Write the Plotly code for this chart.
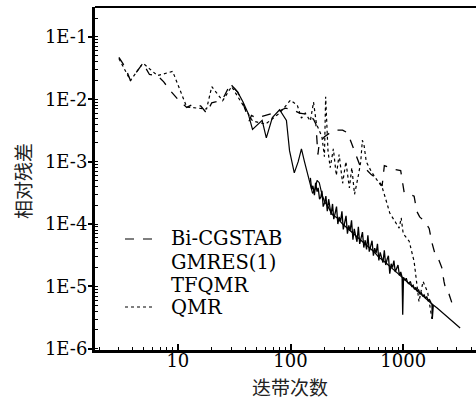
import plotly.graph_objects as go

# ---------------- data ----------------
bicg_x = [3, 3.4, 3.8, 4.3, 4.9, 5.6, 6.6, 7.5, 8.5, 10, 12, 14, 16, 18, 20, 22, 25, 28, 30, 34, 38, 43, 45, 50,
          60, 75, 90, 105, 120, 135, 150, 160, 168, 175, 180, 200, 230, 260, 290, 320, 340, 370, 410, 470, 520,
          575, 650, 680, 750, 850, 950, 990, 1020, 1150, 1250, 1320, 1400, 1550, 1700, 1800, 1900, 2050, 2200,
          2300, 2400, 2550, 2700]
bicg_y = [0.047, 0.033, 0.020, 0.028, 0.038, 0.025, 0.024, 0.019, 0.014, 0.010, 0.0074, 0.0085, 0.0078, 0.0060,
          0.0088, 0.0092, 0.0100, 0.0150, 0.0168, 0.013, 0.0085, 0.0045, 0.0055, 0.0050, 0.0055, 0.0062, 0.0072,
          0.0068, 0.0060, 0.0058, 0.0052, 0.0048, 0.0040, 0.0013, 0.0020, 0.0025, 0.0030, 0.0032, 0.0032, 0.0029,
          0.0022, 0.0015, 0.0009, 0.00075, 0.00062, 0.00055, 0.00041, 0.00086, 0.00080, 0.00075, 0.00072,
          0.00040, 0.00032, 0.00030, 0.00028, 0.00016, 0.00013, 0.00011, 0.000085, 0.00005, 0.000035, 0.000028,
          0.000020, 0.000012, 0.0000085, 0.0000075, 0.0000055]

gmres_x = [30, 34, 38, 42, 46, 56, 61, 69, 80, 92, 98, 108, 117, 125, 133, 142, 150, 157, 165, 172, 180, 190,
           200, 215, 236, 260, 290, 320, 360, 410, 470, 550, 600, 700, 800, 900, 1000, 1100, 1200, 1400, 1600,
           1800, 2000, 2300, 2600, 2900, 3200]
gmres_y = [0.0168, 0.013, 0.009, 0.0060, 0.0033, 0.0046, 0.0024, 0.0051, 0.0068, 0.0046, 0.0015, 0.00066,
           0.0010, 0.0016, 0.0010, 0.00064, 0.00045, 0.00031, 0.00036, 0.00050, 0.00046, 0.00030, 0.00023,
           0.00019, 0.00014, 0.000125, 0.00010, 0.000085, 0.000070, 0.000056, 0.000046, 0.000036, 0.000030,
           0.000024, 0.000019, 0.000016, 0.0000135, 0.0000115, 0.0000100, 0.0000078, 0.0000063, 0.0000052,
           0.0000045, 0.0000036, 0.0000029, 0.0000025, 0.00000215]

tfqmr_x = [150, 154, 158, 163, 167, 172, 176, 181, 186, 190, 195, 201, 206, 212, 218, 223, 229, 236, 242, 249,
           256, 263, 270, 278, 286, 294, 302, 311, 320, 329, 338, 348, 358, 368, 378, 389, 400, 411, 423, 435,
           447, 460, 473, 486, 500, 514, 529, 544, 559, 575, 591, 608, 625, 643, 661, 680, 699, 719, 739, 760,
           782, 804, 827, 850, 874, 899, 925, 951, 978, 990, 1006, 1035, 1064, 1094, 1125, 1157, 1190, 1224,
           1259, 1295, 1332, 1370, 1409, 1449, 1490, 1532, 1576, 1620, 1666, 1713, 1762, 1800, 1812, 1850]
tfqmr_y = [5.5e-4, 3.6e-4, 4.1e-4, 2.9e-4, 4.6e-4, 3.3e-4, 3.8e-4, 2.5e-4, 2.7e-4, 3.4e-4, 1.9e-4, 2.2e-4,
           2.8e-4, 1.6e-4, 2.5e-4, 1.7e-4, 1.4e-4, 2.1e-4, 1.2e-4, 1.5e-4, 1.9e-4, 1.0e-4, 1.3e-4, 1.1e-4,
           1.6e-4, 8.2e-5, 1.05e-4, 1.35e-4, 7.0e-5, 9.5e-5, 7.8e-5, 1.15e-4, 5.6e-5, 8.4e-5, 6.5e-5, 5.2e-5,
           9.0e-5, 4.8e-5, 6.0e-5, 7.4e-5, 4.2e-5, 5.5e-5, 3.9e-5, 6.6e-5, 3.6e-5, 4.5e-5, 5.4e-5, 3.1e-5,
           4.1e-5, 3.4e-5, 4.8e-5, 2.6e-5, 3.5e-5, 2.9e-5, 2.4e-5, 3.8e-5, 2.2e-5, 2.7e-5, 3.1e-5, 1.6e-5,
           2.3e-5, 2.0e-5, 2.6e-5, 1.7e-5, 1.9e-5, 2.2e-5, 1.5e-5, 1.7e-5, 1.4e-5, 3.5e-6, 1.4e-5, 1.25e-5,
           1.35e-5, 1.15e-5, 1.1e-5, 1.2e-5, 1.0e-5, 1.05e-5, 9.0e-6, 9.6e-6, 8.4e-6, 8.8e-6, 7.6e-6, 7.9e-6,
           7.0e-6, 7.3e-6, 6.5e-6, 6.8e-6, 5.9e-6, 6.1e-6, 5.5e-6, 5.2e-6, 3.0e-6, 5.0e-6]

qmr_x = [3, 3.8, 4.9, 6.6, 9, 12, 18, 20, 25, 30, 38, 46, 60, 80, 100, 115, 125, 135, 150, 160, 170, 190,
         200, 205, 215, 225, 240, 255, 270, 290, 310, 333, 350, 370, 400, 420, 434, 450, 470, 520, 580, 650,
         700, 760, 820, 920, 960, 1000, 1130, 1250, 1380, 1500, 1650, 1800]
qmr_y = [0.045, 0.020, 0.038, 0.024, 0.028, 0.0075, 0.0070, 0.016, 0.0095, 0.0160, 0.0080, 0.0045, 0.0040,
         0.0060, 0.0097, 0.0080, 0.0050, 0.0060, 0.0045, 0.0090, 0.0040, 0.0025, 0.0012, 0.011, 0.0015,
         0.0008, 0.0016, 0.0006, 0.0013, 0.00045, 0.0010, 0.00038, 0.0008, 0.00030, 0.0006, 0.0010, 0.0022,
         0.0018, 0.0010, 0.0007, 0.00052, 0.00039, 0.00025, 0.00015, 0.00012, 0.000086, 0.000126, 0.00007,
         0.000053, 0.000025, 0.0000057, 0.000012, 0.000008, 0.000003]

y_tickvals = [1e-6, 1e-5, 1e-4, 1e-3, 1e-2, 1e-1]
y_ticktext = ["1E-6", "1E-5", "1E-4", "1E-3", "1E-2", "1E-1"]
x_tickvals = [10, 100, 1000]
x_ticktext = ["10", "100", "1000"]
legend_names = ["Bi-CGSTAB", "GMRES(1)", "TFQMR", "QMR"]

# ---------------- figure ----------------
SERIF = "DejaVu Serif"
CJK = "Noto Sans CJK SC"

fig = go.Figure()
fig.add_trace(go.Scatter(x=gmres_x, y=gmres_y, mode="lines", name=legend_names[1],
                         line=dict(color="black", width=1.2)))
fig.add_trace(go.Scatter(x=tfqmr_x, y=tfqmr_y, mode="lines", name=legend_names[2],
                         line=dict(color="black", width=1.3)))
fig.add_trace(go.Scatter(x=bicg_x, y=bicg_y, mode="lines", name=legend_names[0],
                         line=dict(color="black", width=1.3, dash="dash")))
fig.add_trace(go.Scatter(x=qmr_x, y=qmr_y, mode="lines", name=legend_names[3],
                         line=dict(color="black", width=1.2, dash="dot")))

L, T, B, R = 95, 7, 54, 0
W, H = 476, 404
pw, ph = W - L - R, H - T - B

def px(xp):
    return (xp - L) / pw

def py(yp):
    return (H - B - yp) / ph

fig.update_layout(
    width=W, height=H,
    margin=dict(l=L, r=R, t=T, b=B, pad=0, autoexpand=False),
    paper_bgcolor="white", plot_bgcolor="white",
    showlegend=False,
    font=dict(family=SERIF, size=18, color="black"),
    xaxis=dict(type="log", range=[0.265, 3.646], tickmode="array", tickvals=x_tickvals,
               ticktext=x_ticktext, ticks="inside", ticklen=6, tickwidth=1.5, tickcolor="black",
               showline=True, linewidth=3, linecolor="black", mirror=False, showgrid=False,
               zeroline=False, automargin=False, ticklabelstandoff=-8,
               tickfont=dict(family=SERIF, size=18, color="black"),
               minor=dict(ticks="inside", ticklen=3, tickwidth=1.2, tickcolor="black",
                          dtick="D1", showgrid=False)),
    yaxis=dict(type="log", range=[-6.02, -0.52], tickmode="array", tickvals=y_tickvals,
               ticktext=y_ticktext, ticks="outside", ticklen=4, tickwidth=1.5, tickcolor="black",
               showline=True, linewidth=3, linecolor="black", mirror=False, showgrid=False,
               zeroline=False, automargin=False, ticklabelstandoff=-3,
               tickfont=dict(family=SERIF, size=18, color="black"),
               minor=dict(ticks="inside", ticklen=3, tickwidth=1.2, tickcolor="black",
                          dtick="D1", showgrid=False)),
)

# top frame line
fig.add_shape(type="line", xref="paper", yref="paper", x0=0, x1=1, y0=1, y1=1,
              line=dict(color="black", width=2))

# axis titles
fig.add_annotation(text="迭带次数", xref="paper", yref="paper", x=px(290), y=py(386),
                   showarrow=False, xanchor="center", yanchor="middle",
                   font=dict(family=CJK, size=19, color="#222"))
fig.add_annotation(text="相对残差", xref="paper", yref="paper", x=px(22), y=py(181),
                   showarrow=False, xanchor="center", yanchor="middle", textangle=-90,
                   font=dict(family=CJK, size=19, color="#222"))

# manual legend
rows = [239, 262, 285, 307]
for name, yr in zip(legend_names, rows):
    fig.add_annotation(text=name, xref="paper", yref="paper", x=px(169), y=py(yr),
                       showarrow=False, xanchor="left", yanchor="middle",
                       font=dict(family=SERIF, size=19.5, color="black"))
fig.add_shape(type="line", xref="paper", yref="paper", x0=px(125), x1=px(155), y0=py(rows[0]),
              y1=py(rows[0]), line=dict(color="black", width=1.2, dash="dash"))
fig.add_shape(type="line", xref="paper", yref="paper", x0=px(125), x1=px(155), y0=py(rows[3]),
              y1=py(rows[3]), line=dict(color="black", width=1.2, dash="dot"))

fig.write_html("out.html", config={"displayModeBar": False},
               post_script="document.body.style.margin='0';document.body.style.overflow='hidden';")
